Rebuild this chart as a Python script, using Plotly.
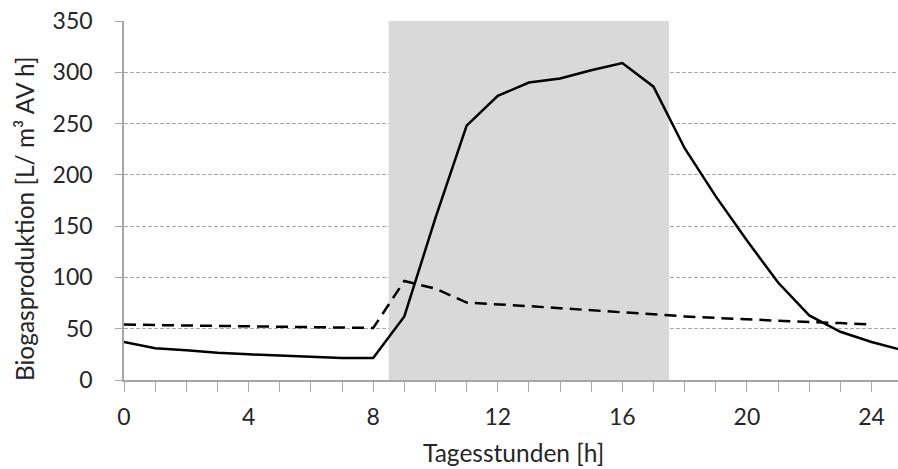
import plotly.graph_objects as go

hours = list(range(0, 26))
solid_vals = [37, 31, 29, 26.5, 25, 24, 23, 21.5, 21.5, 62, 158, 248, 277, 290, 294, 302, 309, 286, 226, 179, 136, 95, 63, 47, 37, 29]
hours_dashed = list(range(0, 25))
dashed_vals = [54, 53.5, 53, 52.5, 52, 52, 51.5, 51, 50.7, 96.5, 89, 75.5, 74, 72, 70, 68, 66, 63.5, 62, 60.5, 59, 57.5, 56.5, 55.5, 54]
shade_start, shade_end = 8.5, 17.5
x_ticks = [0, 4, 8, 12, 16, 20, 24]
y_ticks = [0, 50, 100, 150, 200, 250, 300, 350]

FONT = "Lato"
TXT = "#262626"
FS_TITLE = 24.5
FS_TICK = 23
fig = go.Figure()
fig.add_shape(type="rect", xref="x", yref="y", x0=shade_start, x1=shade_end, y0=0, y1=350,
              fillcolor="#d9d9d9", line=dict(width=0), layer="between")
fig.add_trace(go.Scatter(x=hours, y=solid_vals, mode="lines",
                         line=dict(color="black", width=2.5), showlegend=False))
fig.add_trace(go.Scatter(x=hours_dashed, y=dashed_vals, mode="lines",
                         line=dict(color="black", width=2.5, dash="12px,7px"), showlegend=False))

fig.update_layout(
    width=898, height=469,
    margin=dict(l=124, r=0, t=21, b=89),
    plot_bgcolor="white", paper_bgcolor="white",
    font=dict(family=FONT, size=FS_TICK, color=TXT),
)
fig.update_xaxes(range=[0, 24.85], tickvals=x_ticks, ticks="outside", ticklen=10, tickcolor="#a6a6a6",
                 showline=True, linecolor="#a6a6a6", linewidth=1.5, showgrid=False, zeroline=False,
                 automargin=False, ticklabelstandoff=6,
                 minor=dict(dtick=1, ticks="outside", ticklen=10, tickcolor="#a6a6a6", showgrid=False))
fig.update_yaxes(range=[0, 350], tickvals=y_ticks, ticks="outside", ticklen=7, tickcolor="#a6a6a6",
                 showline=True, linecolor="#a6a6a6", linewidth=1.5, automargin=False, ticklabelstandoff=18,
                 showgrid=True, gridcolor="#a6a6a6", griddash="4px,2px", gridwidth=1, zeroline=False)
fig.add_annotation(text="Tagesstunden [h]", xref="paper", yref="paper", x=0.5026, y=-0.2006,
                   xanchor="center", yanchor="middle", showarrow=False, font=dict(size=FS_TITLE, color=TXT))
fig.add_annotation(text="Biogasproduktion [L/ m³ AV h]", xref="paper", yref="paper", x=-0.1292, y=0.451,
                   xanchor="center", yanchor="middle", textangle=-90, showarrow=False,
                   font=dict(size=FS_TITLE, color=TXT))
fig.write_html("out.html", config={"displayModeBar": False},
               post_script="document.body.style.margin='0';document.body.style.overflow='hidden';")
